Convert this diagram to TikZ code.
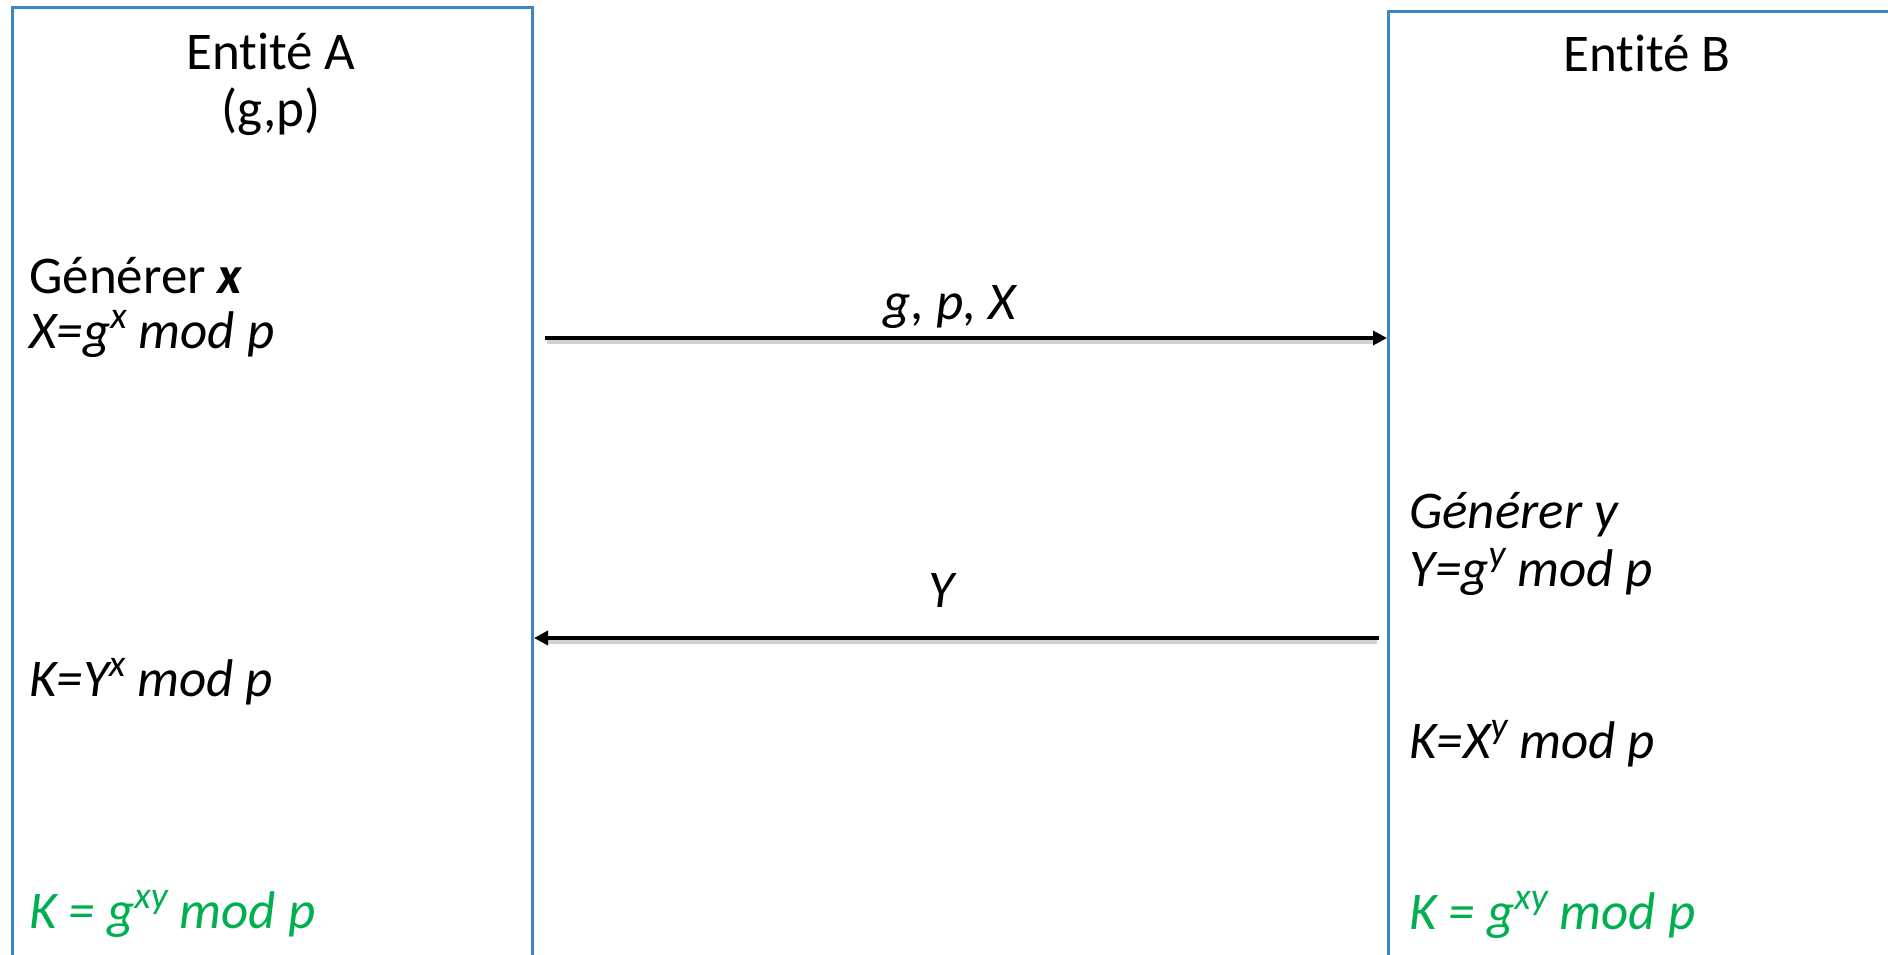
\documentclass[tikz,border=0pt]{standalone}
\usepackage{fontspec}
\setmainfont[Ligatures=NoCommon]{Carlito}
\usetikzlibrary{arrows.meta}
\definecolor{boxblue}{RGB}{58,134,199}
\definecolor{keygreen}{RGB}{0,176,80}
\newcommand{\sps}[1]{\raisebox{0.38em}{\fontsize{38}{40}\selectfont #1}}
\begin{document}
\begin{tikzpicture}[x=1pt,y=-1pt,
  entity/.style={draw=boxblue,line width=3pt,inner sep=0pt},
  txt/.style={anchor=mid west,inner sep=0pt,font=\fontsize{53}{60}\selectfont},
  title/.style={inner sep=0pt,font=\fontsize{53}{60}\selectfont},
  keytxt/.style={txt,text=keygreen},
  msg/.style={line width=4.5pt,-{Triangle[length=14pt,width=14pt]}},
  shadowline/.style={line width=4pt,draw=black!18}]
\useasboundingbox (0,0) rectangle (1888,955);
\clip (0,0) rectangle (1888,955);
% boxes
\node[entity,anchor=north west,minimum width=520,minimum height=1000] (boxA) at (11,6) {};
\node[entity,anchor=north west,minimum width=600,minimum height=1000] (boxB) at (1387,10) {};
% titles
\node[title] (tA) at (271,51) {Entité A};
\node[title] (gp) at (271,112) {(g,p)};
\node[title] (tB) at (1647,53) {Entité B};
% left texts
\node[txt] (genx) at (29,291) {Générer \textbf{\textit{x}}};
\node[txt] (X) at (29,346) {\textit{X=g\sps{x} mod p}};
\node[txt] (KA) at (29,694) {\textit{K=Y\sps{x} mod p}};
\node[keytxt] (KgA) at (29,926) {\textit{K = g\sps{xy} mod p}};
% right texts
\node[txt] (geny) at (1409,526) {\textit{Générer y}};
\node[txt] (Y) at (1409,584) {\textit{Y=g\sps{y} mod p}};
\node[txt] (KB) at (1409,756) {\textit{K=X\sps{y} mod p}};
\node[keytxt] (KgB) at (1409,927) {\textit{K = g\sps{xy} mod p}};
% messages
\coordinate (a1s) at (545,338);
\coordinate (a2s) at (1379,638);
\draw[shadowline] ([shift={(2,4)}]a1s) -- ([shift={(-14,4)}]a1s -| boxB.west);
\draw[shadowline] ([shift={(-2,4)}]a2s) -- ([shift={(14,4)}]a2s -| boxA.east);
\draw[msg] (a1s) -- (a1s -| boxB.west);
\draw[msg] (a2s) -- (a2s -| boxA.east);
\node[title] (m1) at (951,307) {\textit{g, p, X}};
\node[title] (m2) at (943,590) {\textit{Y}};
\end{tikzpicture}
\end{document}
